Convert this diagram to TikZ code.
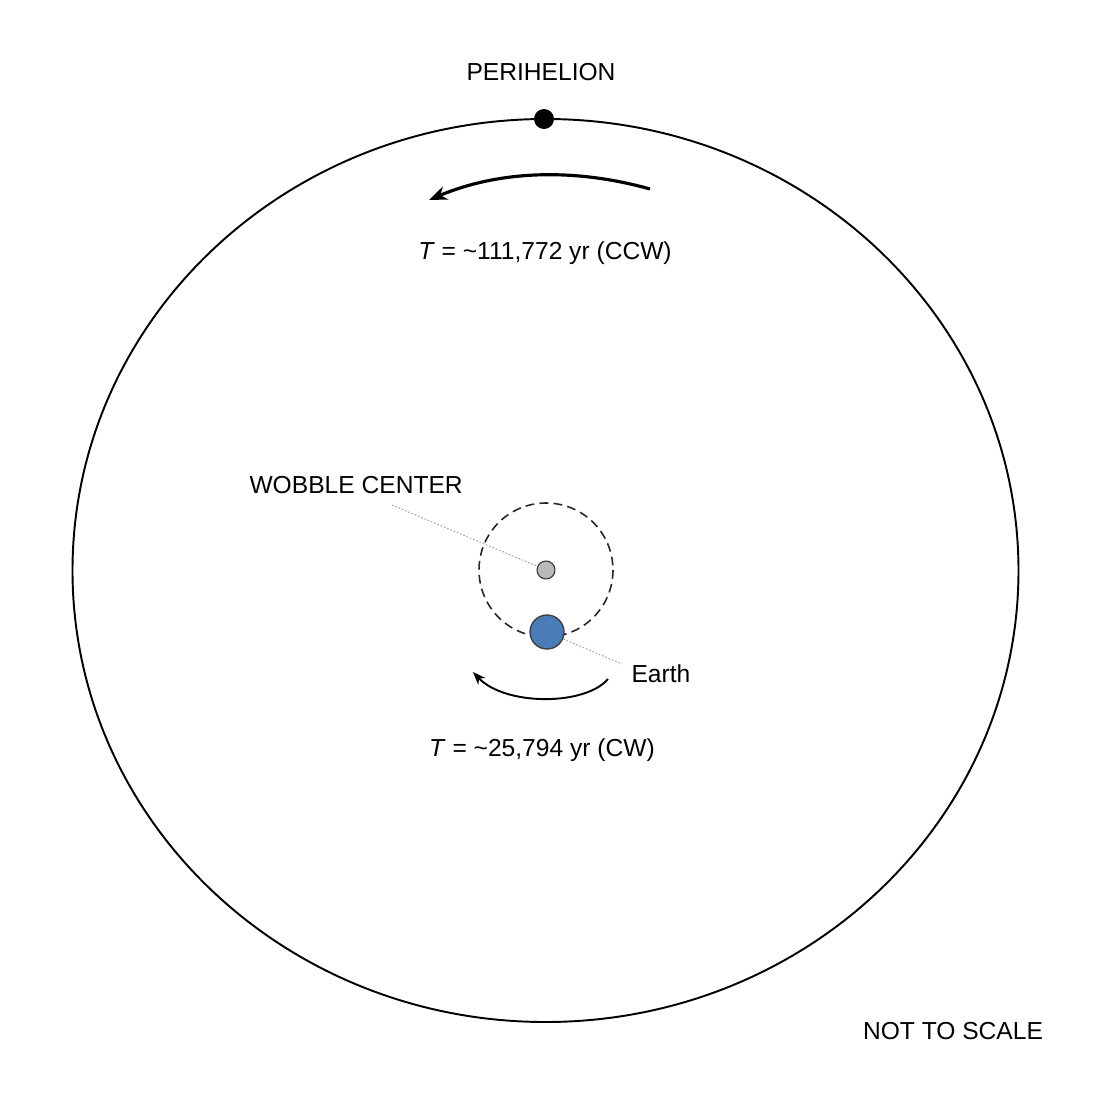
\documentclass[tikz,border=0pt]{standalone}
\usepackage{fontspec}
\setmainfont{Liberation Sans}
\usetikzlibrary{arrows.meta, positioning}

\begin{document}
\begin{tikzpicture}[x=0.02cm, y=-0.02cm, semithick]
    \tikzstyle{every node}=[font=\fontsize{14}{17}\selectfont, text=black, inner sep=0pt]
    \tikzstyle{label}=[shape=rectangle, fill=none, draw=none]
    \tikzstyle{dot}=[shape=circle, draw=none, fill=black, minimum size=0.4cm]
    \tikzstyle{leader}=[draw=gray!75, line width=0.5pt, dash pattern=on 1pt off 1pt]
    \tikzstyle{orbit}=[draw=black, line width=1.1pt]

    \useasboundingbox (0,0) rectangle (1093,1093);

    % orbits
    \draw[orbit] (545.5,570.5) ellipse [x radius=473, y radius=451.5];
    \draw[black!85, line width=0.9pt, dash pattern=on 5pt off 3pt] (546,570) circle [radius=67];

    \node[dot]  (per) at (544,119) {};
    \node[circle, draw=black!80, fill=gray!55, minimum size=0.36cm, line width=0.6pt] (wc) at (546,570) {};
    \node[circle, draw=black!75, fill={rgb,255:red,74;green,125;blue,184}, minimum size=0.68cm, line width=0.8pt] (earth) at (547,632) {};

    \node[label]  (lper) at (541,72)   {PERIHELION};
    \node[label]  (tccw) at (545,253)  {\textit{T} = \textasciitilde111,772 yr (CCW)};
    \node[label, anchor=west]  (lwc) at (249,485)  {WOBBLE CENTER};
    \node[label, anchor=west]  (lea) at (631,674)  {Earth};
    \node[label]  (tcw) at (542,750)   {\textit{T} = \textasciitilde25,794 yr (CW)};
    \node[label]  (nts) at (953,1031)  {NOT TO SCALE};

    \coordinate (wl) at (392,505);
    \coordinate (el) at (622,664);

    % leaders
    \path
    (wl)    edge[leader]   (wc)
    (earth) edge[leader]   (el)
            ;

    % directions of motion
    \draw[-{Stealth[length=0.36cm, width=0.28cm]}, line width=1.8pt] (650,189) .. controls (575,168) and (500,170) .. (429,200);
    \draw[-{Stealth[length=0.26cm, width=0.2cm]}, line width=1.1pt] (608,679) .. controls (585,706) and (505,706) .. (473,672);

\end{tikzpicture}
\end{document}
